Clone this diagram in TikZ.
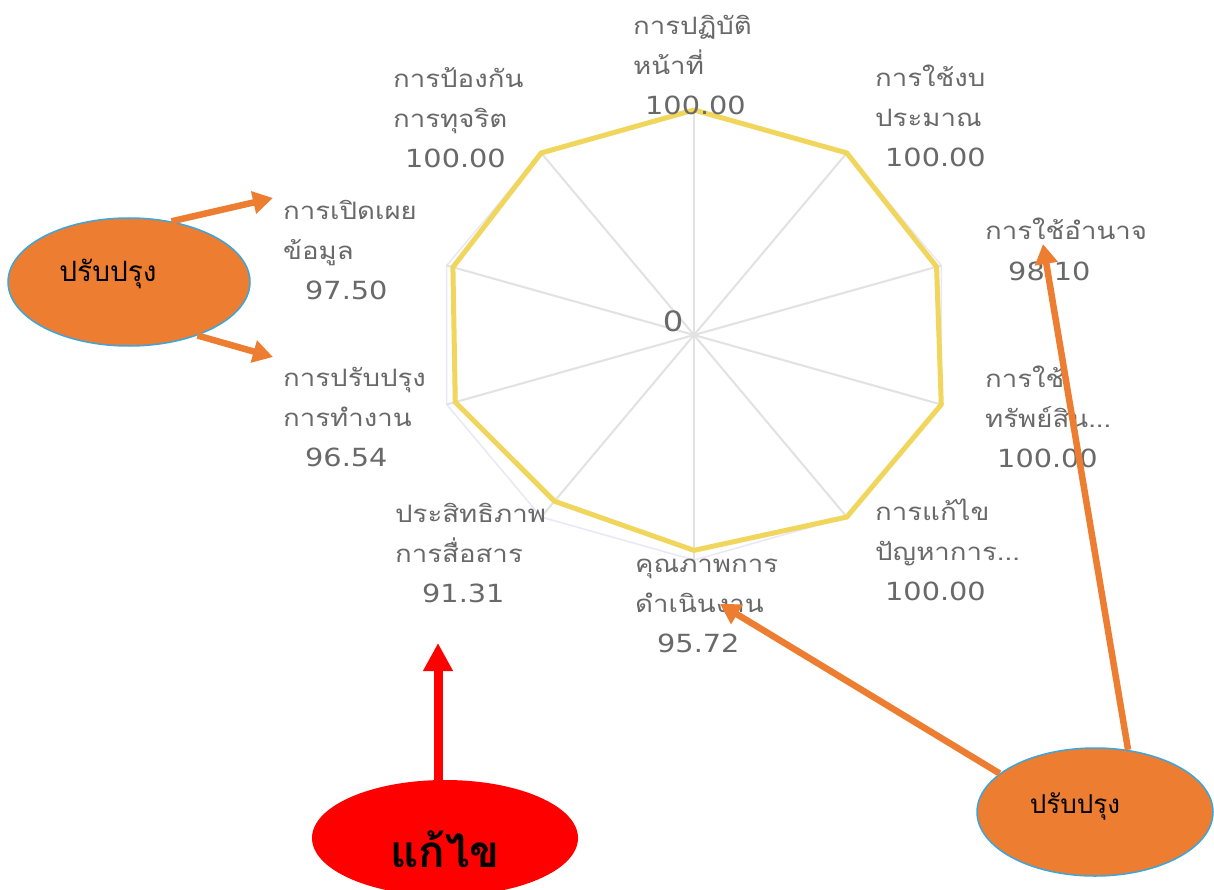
\documentclass[tikz,border=0pt]{standalone}
\usepackage{fontspec}
\newfontfamily\thaifont[Script=Thai]{Loma}
\newfontfamily\numfont{DejaVu Sans}
\usetikzlibrary{shapes.geometric,arrows.meta}
\definecolor{lbl}{RGB}{105,105,105}
\definecolor{spoke}{RGB}{226,226,226}
\definecolor{gridc}{RGB}{232,232,246}
\definecolor{radarc}{RGB}{240,214,92}
\definecolor{orangeA}{RGB}{237,125,49}
\definecolor{blueB}{RGB}{60,165,220}
\definecolor{redA}{RGB}{255,0,0}
\tikzset{
  lab/.style={anchor=base west, inner sep=0pt, text=lbl, font=\thaifont\fontsize{24}{28}\selectfont},
  num/.style={anchor=base west, inner sep=0pt, text=lbl, font=\numfont\fontsize{25}{28}\selectfont},
  oell/.style={ellipse, draw=blueB, line width=1.5pt, fill=orangeA, inner sep=0pt},
  ell/.style={ellipse, fill=redA, inner sep=0pt},
  otext/.style={anchor=base, inner sep=0pt, text=black, font=\thaifont\fontsize{28}{32}\selectfont},
  oarr/.style={draw=orangeA, line width=6.5pt, -{Triangle[length=20pt,width=22pt]}},
  rarr/.style={draw=redA, line width=9pt, -{Triangle[length=28pt,width=28pt]}},
}
\newcommand\sx[1]{\scalebox{1.15}[1]{#1}}
\newcommand\rlab[7]{%
  \node[lab] (#1a) at (#2,#3) {\sx{#4}};
  \node[lab] (#1b) at (#2,#3+40) {\sx{#5}};
  \node[num] (#1c) at (#6,#3+80) {\sx{#7}};
}
\begin{document}
\begin{tikzpicture}[x=1pt,y=-1pt]
\useasboundingbox[fill=white] (0,0) rectangle (1214,890);
\coordinate (c) at (694,335);
\foreach \i/\a/\v in {1/90/100, 2/54/100, 3/18/98.10, 4/-18/100, 5/-54/100, 6/-90/95.72, 7/-126/91.31, 8/-162/96.54, 9/162/97.50, 10/126/100}{
  \coordinate (o\i) at ({694+260*cos(\a)},{335-225*sin(\a)});
  \coordinate (v\i) at ({694+2.60*\v*cos(\a)},{335-2.25*\v*sin(\a)});
}
% grid
\draw[gridc, line width=1.5pt] (o1)--(o2)--(o3)--(o4)--(o5)--(o6)--(o7)--(o8)--(o9)--(o10)--cycle;
\foreach \i in {1,...,10}{\draw[spoke, line width=2pt] (c) -- (o\i);}
% data
\draw[radarc, line width=5pt, line join=round] (v1)--(v2)--(v3)--(v4)--(v5)--(v6)--(v7)--(v8)--(v9)--(v10)--cycle;
\node[num, anchor=base, font=\numfont\fontsize{28}{30}\selectfont] (zero) at (673,331) {\sx{0}};
% labels
\rlab{top}{633}{35}{การปฏิบัติ}{หน้าที่}{645}{100.00}
\rlab{pk}{393}{88}{การป้องกัน}{การทุจริต}{405}{100.00}
\rlab{bud}{875}{87}{การใช้งบ}{ประมาณ}{885}{100.00}
\node[lab] (powa) at (985,240) {\sx{การใช้อำนาจ}};
\node[num] (powc) at (1008,280) {\sx{98.10}};
\rlab{dis}{283}{220}{การเปิดเผย}{ข้อมูล}{305}{97.50}
\rlab{imp}{283}{386}{การปรับปรุง}{การทำงาน}{305}{96.54}
\rlab{ast}{985}{387}{การใช้}{ทรัพย์สิน...}{997}{100.00}
\rlab{sol}{875}{520}{การแก้ไข}{ปัญหาการ...}{885}{100.00}
\rlab{com}{395}{522}{ประสิทธิภาพ}{การสื่อสาร}{422}{91.31}
\rlab{qual}{635}{572}{คุณภาพการ}{ดำเนินงาน}{657}{95.72}
% callouts
\node[oell, minimum width=242pt, minimum height=128pt] (lell) at (129,282) {};
\node[otext] (ltxt) at (108,282) {ปรับปรุง};
\node[oell, minimum width=236pt, minimum height=128pt] (rell) at (1095,812) {};
\node[otext, font=\thaifont\fontsize{26}{30}\selectfont] (rtxt) at (1075,813) {ปรับปรุง};
\node[ell, minimum width=266pt, minimum height=116pt] (redell) at (445,838) {};
\node[anchor=base, inner sep=0pt, text=black, font=\thaifont\bfseries\fontsize{44}{50}\selectfont] (redtxt) at (445,867) {แก้ไข};
\coordinate (t1) at (273,198);
\coordinate (t2) at (273,357);
\coordinate (t3) at (720,604);
\coordinate (t4) at (1043,244);
\coordinate (t5) at (438,643);
\draw[oarr] (lell.55) -- (t1);
\draw[oarr] (lell.-38) -- (t2);
\draw[oarr] (rell.158) -- (t3);
\draw[oarr] (rell.62) -- (t4);
\draw[rarr] (t5 |- redell.north) -- (t5);
\end{tikzpicture}
\end{document}
